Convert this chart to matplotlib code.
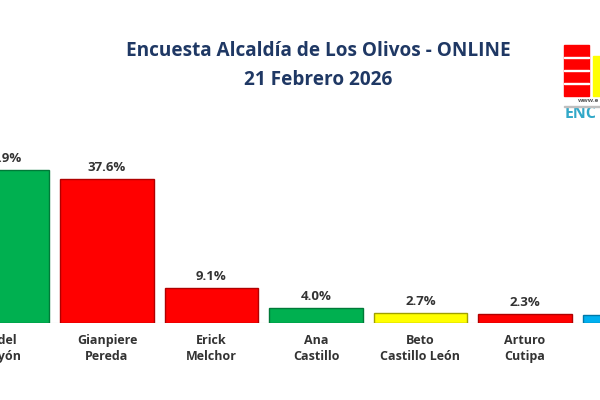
import matplotlib
matplotlib.use("Agg")
import matplotlib.pyplot as plt
from matplotlib.patches import Rectangle

names = ["Fidel\nRayón", "Gianpiere\nPereda", "Erick\nMelchor", "Ana\nCastillo",
         "Beto\nCastillo León", "Arturo\nCutipa", ""]
values = [39.9, 37.6, 9.1, 4.0, 2.7, 2.3, 2.0]
colors = ["#00b050", "#ff0000", "#ff0000", "#00b050", "#ffff00", "#ff0000", "#00b0f0"]
edges = ["#007a38", "#b00000", "#b00000", "#007a38", "#a0a000", "#b00000", "#0078a8"]
title1 = "Encuesta Alcaldía de Los Olivos - ONLINE"
title2 = "21 Febrero 2026"

fig = plt.figure(figsize=(6, 4), dpi=100)
fig.patch.set_facecolor("white")
ax = fig.add_axes([0, 1 - 323 / 400, 1, 191.5 / 400])
x = list(range(len(values)))
ax.bar(x, values, width=0.89, color=colors, edgecolor=edges, linewidth=1.0, zorder=2)
ax.set_xlim(-2.5 / 104.5, 597.5 / 104.5)
ax.set_ylim(0, 50)
ax.axhline(0, color="#d9d9d9", lw=0.8, zorder=1)
for s in ax.spines.values():
    s.set_visible(False)
ax.set_xticks([])
ax.set_yticks([])

fam = ["Open Sans", "DejaVu Sans"]
for xi, v in zip(x, values):
    if xi == 6:
        continue
    ax.annotate(f"{v:.1f}%", (xi, v), xytext=(0, 3.5), textcoords="offset points",
                ha="center", va="bottom", fontsize=9.5, fontweight="bold",
                color="#333333", family=fam, annotation_clip=False)
for xi, n in zip(x, names):
    if not n:
        continue
    ax.annotate(n, (xi, 0), xytext=(0, -8), textcoords="offset points",
                ha="center", va="top", fontsize=9, fontweight="bold",
                color="#333333", family=fam, linespacing=1.25, annotation_clip=False)

fig.text(318 / 600, 1 - 51.5 / 400, title1, ha="center", va="center", fontsize=13.7,
         fontweight="bold", color="#1f3864", family=fam)
fig.text(318 / 600, 1 - 80 / 400, title2, ha="center", va="center", fontsize=13.7,
         fontweight="bold", color="#1f3864", family=fam)

# logo
def frect(x0, y0, x1, y1, c):
    fig.patches.append(Rectangle((x0 / 600, 1 - y1 / 400), (x1 - x0) / 600, (y1 - y0) / 400,
                                 transform=fig.transFigure, color=c, zorder=5))
frect(564, 45, 589, 96, "#ff0000")
for yy in (57, 70, 83):
    frect(564, yy, 589, yy + 1.2, "white")
frect(593, 56, 600, 96, "#ffff00")
frect(564, 106, 600, 107, "#bfbfbf")
fig.text(578 / 600, 1 - 101 / 400, "www.e", ha="left", va="center", fontsize=4.5,
         color="#555555", family=fam, fontweight="bold")
fig.text(565 / 600, 1 - 113.5 / 400, "ENC", ha="left", va="center", fontsize=11.5,
         color="#31a8c8", family=fam, fontweight="bold")

fig.savefig("out.png", dpi=100, facecolor="white")
